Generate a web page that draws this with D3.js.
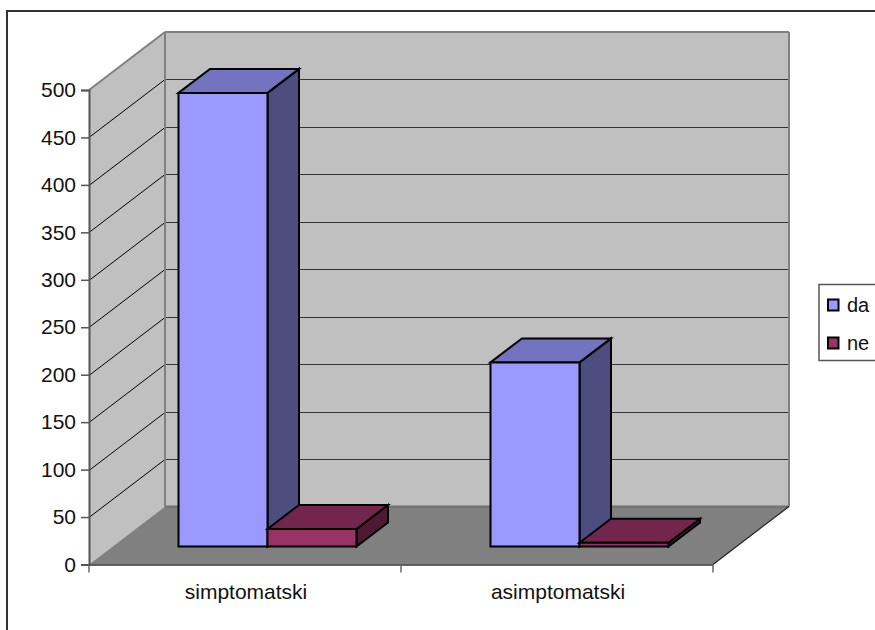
<!DOCTYPE html>
<html><head><meta charset="utf-8">
<script src="https://cdn.jsdelivr.net/npm/d3@7"></script>
<style>html,body{margin:0;padding:0;background:#fff;overflow:hidden}svg{display:block}text{font-family:"Liberation Sans",Arial,sans-serif;fill:#111}</style>
</head><body><svg id="c" width="875" height="630"></svg>
<script>
const categories = ["simptomatski", "asimptomatski"];
const seriesNames = ["da", "ne"];
const daValues = [478, 194];
const neValues = [18.5, 4];
const yTicks = [0, 50, 100, 150, 200, 250, 300, 350, 400, 450, 500];

const svg = d3.select("#c");
const y = d3.scaleLinear().domain([0, 500]).range([564.5, 90]);
const x = d3.scaleBand().domain(categories).range([89, 713]);
const dx = 76, dy = -58;          // full floor depth
const colors = {da:{front:"#9999ff",top:"#7373bf",side:"#4d4d80"}, ne:{front:"#993366",top:"#73264d",side:"#4d1933"}};

const poly = (pts, fill, stroke, sw) => svg.append("polygon")
  .attr("points", pts.map(p => p.join(",")).join(" "))
  .attr("fill", fill).attr("stroke", stroke || "none").attr("stroke-width", sw || 0).attr("stroke-linejoin", "miter");
const line = (x1, y1, x2, y2, stroke, sw) => svg.append("line")
  .attr("x1", x1).attr("y1", y1).attr("x2", x2).attr("y2", y2)
  .attr("stroke", stroke).attr("stroke-width", sw);

// outer frame (runs off the right and bottom of the picture)
svg.append("rect").attr("x", 7).attr("y", 11).attr("width", 900).attr("height", 700)
  .attr("fill", "#fff").attr("stroke", "#333").attr("stroke-width", 2);

const X0 = x.range()[0], X1 = x.range()[1], Y0 = y(0), YT = y(500);
// walls and floor
poly([[X0 + dx, YT + dy], [X1 + dx, YT + dy], [X1 + dx, Y0 + dy], [X0 + dx, Y0 + dy]], "#c0c0c0");
poly([[X0, YT], [X0 + dx, YT + dy], [X0 + dx, Y0 + dy], [X0, Y0]], "#c0c0c0");
poly([[X0, Y0], [X0 + dx, Y0 + dy], [X1 + dx, Y0 + dy], [X1, Y0]], "#808080");
// gridlines
yTicks.filter(t => t > 0 && t < 500).forEach(t => {
  const py = Math.round(y(t)) + 0.5;
  line(X0, py, X0 + dx, py + dy, "#000", 1);
  line(X0 + dx, py + dy, X1 + dx, py + dy, "#333", 1);
});
// wall edges
line(X0, YT, X0 + dx, YT + dy, "#808080", 2);
line(X0 + dx, YT + dy, X1 + dx, YT + dy, "#808080", 2);
line(X0 + dx, YT + dy, X0 + dx, Y0 + dy, "#808080", 2);
line(X1 + dx, YT + dy, X1 + dx, Y0 + dy, "#808080", 2);
line(X0 + dx, Y0 + dy, X1 + dx, Y0 + dy, "#707070", 2);
line(X1, Y0, X1 + dx, Y0 + dy, "#222", 1.2);

// axes
const yAxis = d3.axisLeft(y).tickValues(yTicks).tickSize(8).tickPadding(5);
const gy = svg.append("g").attr("transform", `translate(${X0},0)`).call(yAxis);
gy.selectAll("text").style("font-size", "21px").style("font-family", '"Liberation Sans",Arial,sans-serif').attr("fill", "#111");
gy.selectAll("line").attr("stroke", "#555").attr("stroke-width", 1.5);
gy.selectAll("path").attr("stroke", "#555").attr("stroke-width", 2);

const xAxis = d3.axisBottom(x).tickValues([]).tickSize(0);
const gx = svg.append("g").attr("transform", `translate(0,${Y0})`).call(xAxis);
gx.selectAll("path").attr("stroke", "#333").attr("stroke-width", 1.5);
[X0, X0 + x.bandwidth(), X1].forEach(t => line(t, Y0, t, Y0 + 8, "#666", 1.5));
categories.forEach(c => svg.append("text").attr("x", x(c) + x.bandwidth() / 2 + 1).attr("y", 599)
  .attr("text-anchor", "middle").style("font-size", "21px").text(c));

// bars
const barW = 89;
function bar(cat, s, v) {
  const i = seriesNames.indexOf(s);
  const bx = 22.5, by = -18;   // position of the bar row on the floor
  const x0 = x(cat) + x.bandwidth() / 2 - barW + i * barW + bx;
  const x1 = x0 + barW;
  const base = Y0 + by, top = y(v) + by;
  const ox = 31.5, oy = -24;
  const c = colors[s], st = "#000", sw = 2;
  poly([[x1, top], [x1 + ox, top + oy], [x1 + ox, base + oy], [x1, base]], c.side, st, sw);
  poly([[x0, top], [x0 + ox, top + oy], [x1 + ox, top + oy], [x1, top]], c.top, st, sw);
  poly([[x0, top], [x1, top], [x1, base], [x0, base]], c.front, st, sw);
}
categories.forEach((c, i) => {
  bar(c, "da", daValues[i]);
  bar(c, "ne", neValues[i]);
});

// legend
svg.append("rect").attr("x", 819).attr("y", 284.5).attr("width", 80).attr("height", 76)
  .attr("fill", "#fff").attr("stroke", "#555").attr("stroke-width", 1.5);
seriesNames.forEach((s, i) => {
  const ly = 305 + i * 38;
  svg.append("rect").attr("x", 828).attr("y", ly - 5.5).attr("width", 10.5).attr("height", 11)
    .attr("fill", colors[s].front).attr("stroke", "#000").attr("stroke-width", 2);
  svg.append("text").attr("x", 847).attr("y", ly + 6.5).style("font-size", "20px").text(s);
});
</script></body></html>
